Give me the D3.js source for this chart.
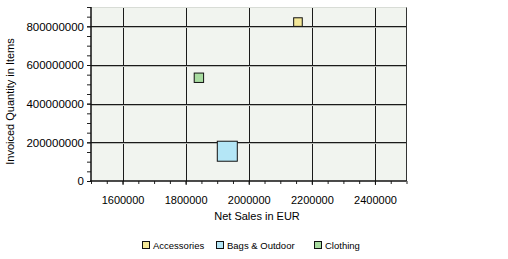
<!DOCTYPE html>
<html><head><meta charset="utf-8">
<script src="https://cdn.jsdelivr.net/npm/d3@7"></script>
<style>body{margin:0;background:#fff;}svg{display:block;font-family:"Liberation Sans",Arial,sans-serif;}</style>
</head><body>
<script>
const categories = ["Accessories", "Bags & Outdoor", "Clothing"];
const netSales = [2156000, 1932000, 1842000];
const invoicedQty = [822000000, 154000000, 534000000];
const bubbleValues = [37, 200, 44];
const xTicks = [1600000, 1800000, 2000000, 2200000, 2400000];
const yTicks = [0, 200000000, 400000000, 600000000, 800000000];
const colors = ["#f4e898", "#b4e6f6", "#a8dca0"];

const W = 508, H = 259;
const svg = d3.select("body").append("svg").attr("width", W).attr("height", H);
const L = 91, R = 406.5, T = 7, B = 181;
const x = d3.scaleLinear().domain([1500000, 2500000]).range([L, R]);
const y = d3.scaleLinear().domain([0, 900000000]).range([B, T]);
const s = d3.scaleSqrt().domain([0, 200]).range([0, 20]);

svg.append("rect").attr("x", L).attr("y", T).attr("width", R - L).attr("height", B - T).attr("fill", "#f1f4ef");

// grid
const g = svg.append("g");
g.selectAll(".gx").data(xTicks).join("line")
  .attr("x1", d => Math.round(x(d)) + 0.5).attr("x2", d => Math.round(x(d)) + 0.5)
  .attr("y1", T).attr("y2", B).attr("stroke", "#1a1a1a").attr("stroke-width", 1);
g.selectAll(".gy").data(yTicks.filter(d => d > 0)).join("line")
  .attr("y1", d => Math.round(y(d)) + 0.5).attr("y2", d => Math.round(y(d)) + 0.5)
  .attr("x1", L).attr("x2", R).attr("stroke", "#1a1a1a").attr("stroke-width", 1);
g.selectAll(".gy2").data(yTicks.filter(d => d > 0)).join("line")
  .attr("y1", d => Math.round(y(d)) + 1.5).attr("y2", d => Math.round(y(d)) + 1.5)
  .attr("x1", L).attr("x2", R).attr("stroke", "#b8bbb6").attr("stroke-width", 1);

// frame
svg.append("line").attr("x1", R).attr("x2", R).attr("y1", T).attr("y2", B).attr("stroke", "#333");
svg.append("line").attr("x1", L).attr("x2", R).attr("y1", T + 0.5).attr("y2", T + 0.5).attr("stroke", "#d8dcd6");

// axes
const xMinor = d3.range(1500000, 2500001, 50000);
const yMinor = d3.range(0, 900000001, 50000000);
const xa = svg.append("g").attr("transform", `translate(0,${B})`)
  .call(d3.axisBottom(x).tickValues(xMinor).tickSize(3).tickFormat(""));
xa.select(".domain").remove();
xa.selectAll("line").attr("stroke", "#222");
const xa2 = svg.append("g").attr("transform", `translate(0,${B})`)
  .call(d3.axisBottom(x).tickValues(xTicks).tickSize(4).tickPadding(11).tickFormat(d3.format("d")));
xa2.select(".domain").remove();
xa2.selectAll("line").attr("stroke", "#111");
xa2.selectAll("text").attr("font-size", "11px").attr("fill", "#000").attr("font-family", "Liberation Sans, Arial, sans-serif");

const ya = svg.append("g").attr("transform", `translate(${L},0)`)
  .call(d3.axisLeft(y).tickValues(yMinor).tickSize(4).tickFormat(""));
ya.select(".domain").remove();
ya.selectAll("line").attr("stroke", "#222");
const ya2 = svg.append("g").attr("transform", `translate(${L},0)`)
  .call(d3.axisLeft(y).tickValues(yTicks).tickSize(4).tickPadding(3).tickFormat(d3.format("d")));
ya2.select(".domain").remove();
ya2.selectAll("line").attr("stroke", "#111");
ya2.selectAll("text").attr("font-size", "11.5px").attr("fill", "#000").attr("font-family", "Liberation Sans, Arial, sans-serif");

svg.append("line").attr("x1", L).attr("x2", L).attr("y1", T).attr("y2", B + 1).attr("stroke", "#111").attr("stroke-width", 1.5);
svg.append("line").attr("x1", L - 1).attr("x2", R).attr("y1", B).attr("y2", B).attr("stroke", "#111").attr("stroke-width", 1.5);

// bubbles
const data = categories.map((c, i) => ({c, x: netSales[i], y: invoicedQty[i], v: bubbleValues[i], col: colors[i]}));
svg.selectAll(".b").data(data).join("rect")
  .attr("x", d => x(d.x) - s(d.v) / 2).attr("y", d => y(d.y) - s(d.v) / 2)
  .attr("width", d => s(d.v)).attr("height", d => s(d.v))
  .attr("fill", d => d.col).attr("stroke", "#111").attr("stroke-width", 1);

// titles
svg.append("text").attr("x", 257).attr("y", 220).attr("text-anchor", "middle")
  .attr("font-size", "11px").text("Net Sales in EUR");
svg.append("text").attr("transform", "translate(13.5,101.5) rotate(-90)").attr("text-anchor", "middle")
  .attr("font-size", "11px").text("Invoiced Quantity in Items");

// legend
const legX = [142, 216, 314];
const leg = svg.selectAll(".lg").data(data).join("g")
  .attr("transform", (d, i) => `translate(${legX[i]},241)`);
leg.append("rect").attr("x", 0.5).attr("y", 0.5).attr("width", 7).attr("height", 7)
  .attr("fill", d => d.col).attr("stroke", "#111");
leg.append("text").attr("x", 11).attr("y", 8).attr("font-size", "9.5px").text(d => d.c);
</script>
</body></html>
